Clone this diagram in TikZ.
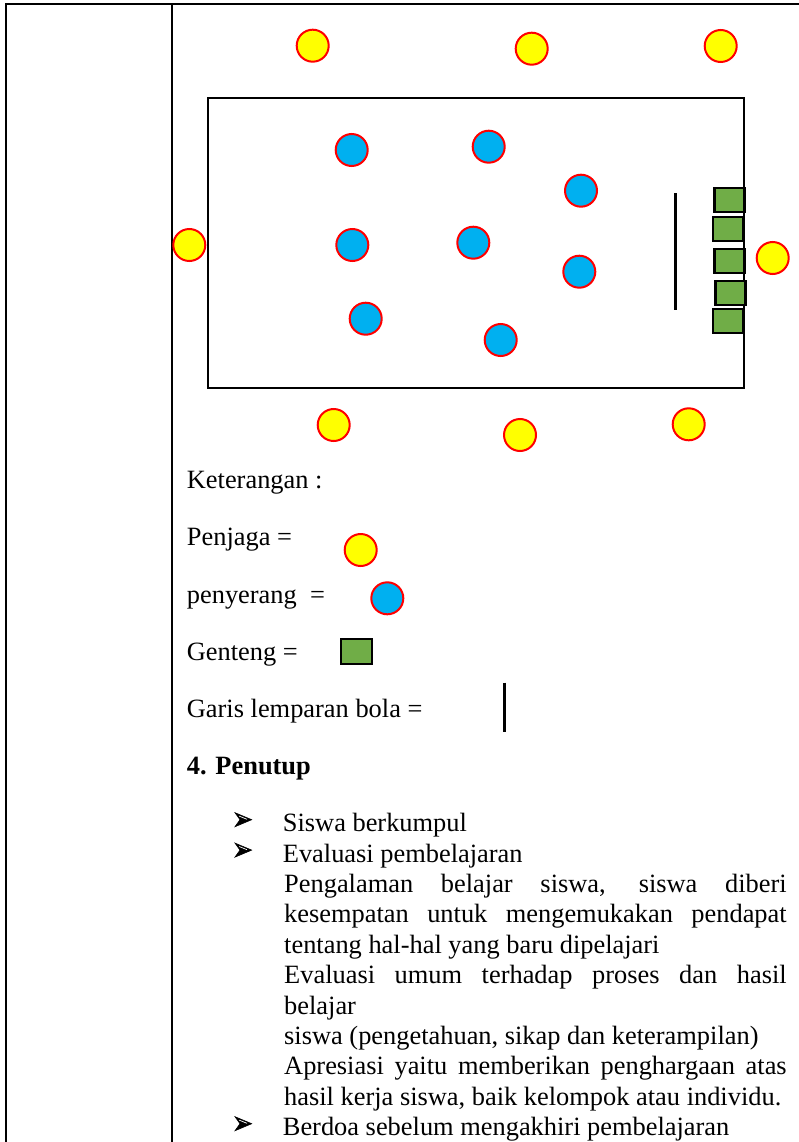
\documentclass[tikz,border=0pt]{standalone}
\usepackage{fontspec}
\setmainfont{Liberation Serif}

\definecolor{guardfill}{HTML}{FFFF00}
\definecolor{attackfill}{HTML}{00B0F0}
\definecolor{tilefill}{HTML}{70AD47}
\definecolor{ringred}{HTML}{FF0000}

\newcommand{\bodyfont}{\fontsize{26.4}{30.4}\selectfont}

\tikzset{
  x=1pt, y=-1pt,
  player/.style={circle, draw=ringred, line width=2pt, minimum size=32pt, inner sep=0pt},
  guardian/.style={player, fill=guardfill},
  attacker/.style={player, fill=attackfill},
  tilebox/.style={rectangle, draw=black, line width=2.2pt, fill=tilefill,
                  inner sep=0pt, minimum width=30pt, minimum height=24pt},
  throwline/.style={line width=3pt},
  txt/.style={anchor=base west, inner sep=0pt, font=\bodyfont},
  frame/.style={line width=1.4pt},
  pics/arrowbullet/.style={code={
    % arrowhead with a light edge across its upper half
    \filldraw[fill=black, draw=black, line width=0.6pt]
      (0,0) -- (16.7,7) -- (0,14) -- (5,7) -- cycle;
    \draw[white, line width=0.7pt] (4.2,3.4) -- (12,6.6);
  }},
}

\begin{document}
\begin{tikzpicture}
\useasboundingbox (0,0) rectangle (799,1142);

% table rules
\draw[frame] (6,1142) -- (6,4) -- (799,4);
\draw[frame] (172,4) -- (172,1142);

% playing field
\draw[line width=1.8pt] (208,97.7) rectangle (744.3,387.7);

% throwing line
\draw[throwline] (675.7,193.3) -- (675.7,310);

% stacked tiles
\node[tilebox] (t1) at (729.5,200.3) {};
\node[tilebox] (t2) at (728.3,228.7) {};
\node[tilebox] (t3) at (729.5,261.2) {};
\node[tilebox] (t4) at (730.5,293.0) {};
\node[tilebox] (t5) at (727.9,320.9) {};

% guards around the field
\node[guardian] (g1) at (312.7,45.7) {};
\node[guardian] (g2) at (531.7,48.7) {};
\node[guardian] (g3) at (720.7,46.0) {};
\node[guardian] (g4) at (189.3,245.0) {};
\node[guardian] (g5) at (772.7,258.0) {};
\node[guardian] (g6) at (333.7,425.0) {};
\node[guardian] (g7) at (520.0,435.0) {};
\node[guardian] (g8) at (688.7,424.3) {};

% attackers inside the field
\node[attacker] (a1) at (351.7,150.0) {};
\node[attacker] (a2) at (488.7,146.7) {};
\node[attacker] (a3) at (581.0,190.7) {};
\node[attacker] (a4) at (352.3,245.0) {};
\node[attacker] (a5) at (473.3,242.7) {};
\node[attacker] (a6) at (579.3,271.7) {};
\node[attacker] (a7) at (365.7,318.7) {};
\node[attacker] (a8) at (500.7,340.0) {};

% legend
\node[txt] (k0) at (186.7,488.3) {Keterangan :};
\node[txt] (k1) at (186.7,545.0) {Penjaga =};
\node[guardian] (kg) at (360.7,550.0) {};
\node[txt] (k2) at (186.7,603.0) {penyerang\ \ =};
\node[attacker] (ka) at (387.3,598.3) {};
\node[txt] (k3) at (186.7,660.0) {Genteng =};
\node[tilebox, minimum width=31pt, minimum height=25pt] (kt) at (356.7,651.3) {};
\node[txt] (k4) at (186.7,717.0) {Garis lemparan bola =};
\draw[line width=3.5pt] (504.7,682.7) -- (504.7,731.7);

% closing section
\node[txt, font=\bodyfont\bfseries] (h4) at (186.7,774.0) {4. Penutup};

\pic at (235,812.7) {arrowbullet};
\node[txt] (l1) at (282.7,831.7) {Siswa berkumpul};
\pic at (235,843.1) {arrowbullet};
\node[txt] (l2) at (282.7,862.1) {Evaluasi pembelajaran};
\node[txt] (l3) at (284,892.5) {\makebox[502.5pt][s]{Pengalaman belajar siswa, siswa diberi}};
\node[txt] (l4) at (284,922.9) {\makebox[502.5pt][s]{kesempatan untuk mengemukakan pendapat}};
\node[txt] (l5) at (284,953.3) {tentang hal-hal yang baru dipelajari};
\node[txt] (l6) at (284,983.7) {\makebox[502.5pt][s]{Evaluasi umum terhadap proses dan hasil}};
\node[txt] (l7) at (284,1014.1) {belajar};
\node[txt] (l8) at (284,1044.5) {siswa (pengetahuan, sikap dan keterampilan)};
\node[txt] (l9) at (284,1074.9) {\makebox[502.5pt][s]{Apresiasi yaitu memberikan penghargaan atas}};
\node[txt] (l10) at (284,1105.3) {hasil kerja siswa, baik kelompok atau individu.};
\pic at (235,1116.7) {arrowbullet};
\node[txt] (l11) at (282.7,1135.7) {Berdoa sebelum mengakhiri pembelajaran};
\end{tikzpicture}
\end{document}
